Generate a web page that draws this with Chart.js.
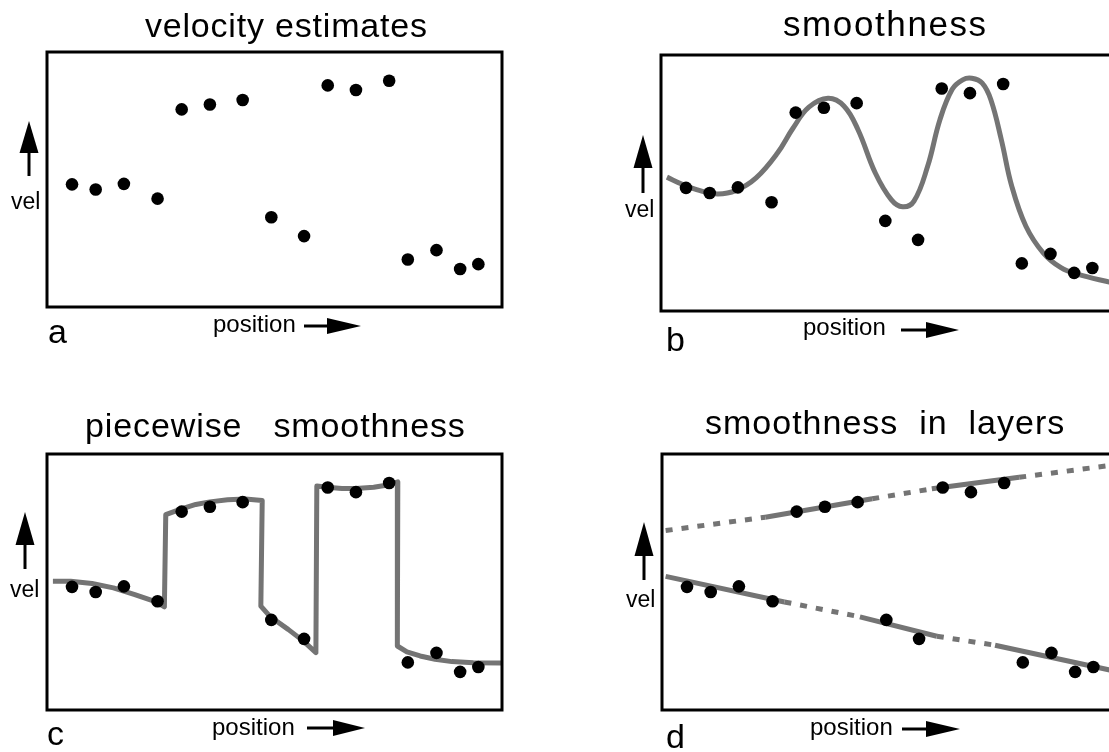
<!DOCTYPE html>
<html>
<head>
<meta charset="utf-8">
<script src="https://cdn.jsdelivr.net/npm/chart.js@4/dist/chart.umd.min.js"></script>
<style>
  html, body { margin: 0; padding: 0; background: #fff; }
  #wrap { position: relative; width: 1109px; height: 752px; overflow: hidden; background: #fff; }
  #wrap canvas { position: absolute; left: 0; top: 0; }
</style>
</head>
<body>
<div id="wrap">
  <canvas id="ca" width="1130" height="752"></canvas>
  <canvas id="cb" width="1130" height="752"></canvas>
  <canvas id="cc" width="1130" height="752"></canvas>
  <canvas id="cd" width="1130" height="752"></canvas>
</div>
<script>
// ---------- data (box spans 0..100 on both axes) ----------
const panelTitles = ['velocity estimates', 'smoothness', 'piecewise   smoothness', 'smoothness  in  layers'];
const panelLetters = ['a', 'b', 'c', 'd'];
const yLabel = 'vel';
const xLabel = 'position';

// velocity estimates (same samples in all four panels)
const position = [5.5, 10.7, 16.9, 24.3, 29.6, 35.8, 43.0, 49.3, 56.5, 61.7, 67.9, 75.2, 79.3, 85.6, 90.8, 94.8];
const velocity = [48.1, 46.1, 48.3, 42.5, 77.5, 79.4, 81.2, 35.2, 27.8, 86.9, 85.1, 88.7, 18.6, 22.3, 14.9, 16.8];

// b: smooth fit
const smoothX = [1.3, 4.8, 8.6, 12.5, 16.5, 20.9, 25.6, 29.0, 32.5, 36.7, 40.2, 43.3, 47.1, 50.6, 53.1, 55.6, 58.6, 61.3, 64.0, 66.3, 68.3, 70.6, 72.5, 74.8, 77.1, 80.2, 84.0, 87.9, 91.7, 99.0];
const smoothY = [52.3, 49.4, 47.0, 45.7, 47.1, 52.0, 61.7, 71.4, 79.6, 83.1, 80.1, 70.8, 53.9, 43.5, 40.7, 42.9, 56.5, 74.7, 86.6, 90.3, 90.9, 89.0, 82.5, 66.9, 48.7, 33.1, 22.7, 16.9, 14.3, 11.1];

// c: piecewise smooth fit
const pieceX = [1.3, 5.2, 9.9, 14.6, 19.3, 24.0, 25.8, 26.1, 29.4, 32.7, 35.8, 39.7, 43.6, 47.3, 47.0, 49.1, 53.0, 56.3, 59.1, 59.3, 61.6, 64.8, 67.9, 71.8, 74.9, 77.1, 77.0, 79.1, 82.0, 85.3, 89.0, 93.7, 99.8];
const pieceY = [50.3, 50.3, 49.4, 47.7, 45.1, 42.2, 40.3, 76.3, 78.5, 80.3, 81.3, 82.1, 82.4, 81.8, 40.6, 36.4, 31.5, 27.0, 22.4, 87.5, 87.0, 86.5, 86.5, 87.0, 87.9, 89.1, 25.0, 22.7, 21.1, 19.8, 18.9, 18.5, 18.4];

// d: two layers (solid where supported by data, dashed elsewhere)
const upperX = [0.8, 22.7, 46.2, 59.3, 78.5, 98.4];
const upperY = [70.1, 75.3, 82.5, 86.4, 90.9, 95.5];
const upperSolid = [false, true, false, true, false];
const lowerX = [0.8, 26.9, 43.5, 60.4, 73.2, 98.4];
const lowerY = [52.2, 42.2, 36.4, 28.8, 25.3, 15.6];
const lowerSolid = [true, false, true, false, true];

// ---------- helpers ----------
const pts = (xs, ys) => xs.map((x, i) => ({ x, y: ys[i] }));
const FONT = '"Liberation Sans", Arial, Helvetica, sans-serif';
const FIT_COLOR = '#747474';

const layouts = [
  { pad: { left: 47, top: 52, right: 628, bottom: 445 },
    title: { x: 145, y: 37, size: 34, ls: 0.8 },
    vel: { x: 11, y: 209 }, up: { x: 29, top: 121, base: 153, bottom: 176 },
    pos: { x: 213, y: 332 }, right: { x0: 304, x1: 327, x2: 361, y: 326 },
    letter: { x: 48, y: 343 } },
  { pad: { left: 661, top: 55, right: 14, bottom: 441 },
    title: { x: 783, y: 36, size: 35, ls: 1.6 },
    vel: { x: 625, y: 217 }, up: { x: 643, top: 135, base: 168, bottom: 193 },
    pos: { x: 803, y: 335 }, right: { x0: 901, x1: 926, x2: 959, y: 330 },
    letter: { x: 666, y: 351 } },
  { pad: { left: 47, top: 454, right: 628, bottom: 42 },
    title: { x: 85, y: 437, size: 34, ls: 0.9 },
    vel: { x: 10, y: 597 }, up: { x: 25, top: 512, base: 545, bottom: 569 },
    pos: { x: 212, y: 735 }, right: { x0: 307, x1: 333, x2: 365, y: 728 },
    letter: { x: 47, y: 745 } },
  { pad: { left: 662, top: 454, right: 13, bottom: 42 },
    title: { x: 705, y: 434, size: 34, ls: 1.0 },
    vel: { x: 626, y: 607 }, up: { x: 644, top: 522, base: 556, bottom: 580 },
    pos: { x: 810, y: 735 }, right: { x0: 902, x1: 926, x2: 960, y: 729 },
    letter: { x: 666, y: 748 } }
];

function decorations(idx) {
  const L = layouts[idx];
  return {
    id: 'decor' + idx,
    afterDatasetsDraw(chart) {
      const ctx = chart.ctx, ca = chart.chartArea;
      ctx.save();
      ctx.strokeStyle = '#000';
      ctx.lineWidth = 3;
      ctx.strokeRect(ca.left, ca.top, ca.right - ca.left, ca.bottom - ca.top);
      ctx.restore();
    },
    afterDraw(chart) {
      const ctx = chart.ctx;
      ctx.save();
      ctx.fillStyle = '#000';
      ctx.strokeStyle = '#000';
      ctx.textAlign = 'left';
      ctx.textBaseline = 'alphabetic';
      // title
      ctx.font = L.title.size + 'px ' + FONT;
      if ('letterSpacing' in ctx) ctx.letterSpacing = L.title.ls + 'px';
      ctx.fillText(panelTitles[idx], L.title.x, L.title.y);
      if ('letterSpacing' in ctx) ctx.letterSpacing = '0px';
      // vel label
      ctx.font = '23px ' + FONT;
      ctx.fillText(yLabel, L.vel.x, L.vel.y);
      // position label
      ctx.font = '24px ' + FONT;
      ctx.fillText(xLabel, L.pos.x, L.pos.y);
      // panel letter
      ctx.font = '34px ' + FONT;
      ctx.fillText(panelLetters[idx], L.letter.x, L.letter.y);
      // up arrow
      const u = L.up;
      ctx.lineWidth = 3;
      ctx.beginPath(); ctx.moveTo(u.x, u.bottom); ctx.lineTo(u.x, u.base); ctx.stroke();
      ctx.beginPath(); ctx.moveTo(u.x, u.top); ctx.lineTo(u.x - 9.5, u.base); ctx.lineTo(u.x + 9.5, u.base); ctx.closePath(); ctx.fill();
      // right arrow
      const r = L.right;
      ctx.beginPath(); ctx.moveTo(r.x0, r.y); ctx.lineTo(r.x1 + 2, r.y); ctx.stroke();
      ctx.beginPath(); ctx.moveTo(r.x2, r.y); ctx.lineTo(r.x1, r.y - 8); ctx.lineTo(r.x1, r.y + 8); ctx.closePath(); ctx.fill();
      ctx.restore();
    }
  };
}

const pointDataset = () => ({
  type: 'scatter',
  data: pts(position, velocity),
  pointRadius: 6.3,
  pointBorderWidth: 0,
  pointBackgroundColor: '#000',
  showLine: false
});

const lineDataset = (xs, ys, extra) => Object.assign({
  type: 'line',
  data: pts(xs, ys),
  borderColor: FIT_COLOR,
  borderWidth: 5,
  pointRadius: 0,
  fill: false,
  tension: 0,
  borderCapStyle: 'butt',
  borderJoinStyle: 'round'
}, extra || {});

function makeChart(canvasId, idx, fits) {
  return new Chart(document.getElementById(canvasId), {
    type: 'scatter',
    data: { datasets: [pointDataset()].concat(fits) },
    options: {
      responsive: false,
      animation: false,
      events: [],
      layout: { padding: layouts[idx].pad },
      plugins: { legend: { display: false }, tooltip: { enabled: false }, title: { display: false } },
      scales: {
        x: { type: 'linear', min: 0, max: 100, display: false },
        y: { type: 'linear', min: 0, max: 100, display: false }
      }
    },
    plugins: [decorations(idx)]
  });
}

makeChart('ca', 0, []);
makeChart('cb', 1, [lineDataset(smoothX, smoothY, { tension: 0.4, cubicInterpolationMode: 'default' })]);
makeChart('cc', 2, [lineDataset(pieceX, pieceY)]);
makeChart('cd', 3, [
  lineDataset(upperX, upperY, { segment: { borderDash: c => upperSolid[c.p0DataIndex] ? [] : [7, 9] } }),
  lineDataset(lowerX, lowerY, { segment: { borderDash: c => lowerSolid[c.p0DataIndex] ? [] : [7, 9] } })
]);
</script>
</body>
</html>
